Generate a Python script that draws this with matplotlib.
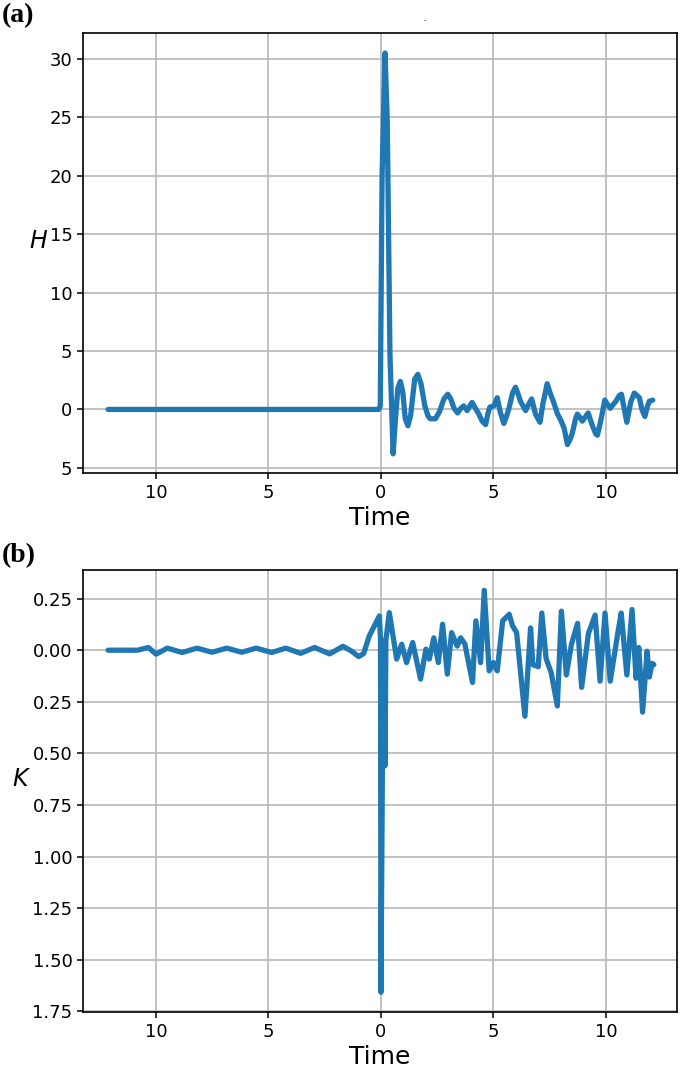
import numpy as np
import matplotlib
matplotlib.use('Agg')
import matplotlib.pyplot as plt
from matplotlib.ticker import FuncFormatter, MultipleLocator

# H(t)
h_time = [-12.13, -0.1, -0.03, 0.0, 0.05, 0.18, 0.28, 0.4, 0.54,
          0.62, 0.75, 0.86, 0.97, 1.08, 1.2, 1.32, 1.5, 1.64, 1.78,
          1.95, 2.1, 2.2, 2.42, 2.6, 2.8, 2.97, 3.1, 3.25, 3.41,
          3.55, 3.68, 3.83, 4.05, 4.2, 4.35, 4.5, 4.65, 4.75, 4.84,
          5.02, 5.17, 5.3, 5.46, 5.58, 5.69, 5.85, 5.98, 6.1, 6.2,
          6.43, 6.58, 6.7, 6.87, 7.07, 7.2, 7.39, 7.5, 7.66, 7.85,
          7.99, 8.14, 8.29, 8.4, 8.51, 8.65, 8.73, 8.85, 8.95, 9.1,
          9.21, 9.4, 9.55, 9.62, 9.72, 9.8, 9.95, 10.05, 10.19, 10.44,
          10.6, 10.69, 10.8, 10.93, 11.1, 11.26, 11.49, 11.6, 11.73, 11.85,
          11.93, 12.08]
h_vals = [0.0, 0.0, 0.3, 8.0, 20.0, 30.5, 24.7, 4.7, -3.8,
          -1.5, 1.8, 2.4, 1.5, -0.8, -1.4, -0.5, 2.6, 3.0, 2.2,
          0.3, -0.6, -0.8, -0.8, -0.2, 0.9, 1.3, 0.9, 0.1, -0.3,
          0.1, 0.3, -0.1, 0.6, 0.1, -0.4, -1.0, -1.3, -0.4, 0.2,
          0.3, 1.0, -0.2, -1.2, -0.6, 0.1, 1.4, 1.9, 1.3, 0.7,
          -0.1, 0.5, 0.9, -0.4, -1.1, 0.5, 2.2, 1.5, 0.7, -0.4,
          -0.9, -1.6, -3.0, -2.6, -2.0, -0.8, -0.4, -0.7, -1.0, -0.6,
          -0.3, -1.4, -2.1, -2.2, -1.4, -0.7, 0.8, 0.5, 0.1, 0.7,
          1.2, 1.3, 0.2, -1.1, 0.6, 1.4, 1.0, 0.0, -0.6, 0.3,
          0.7, 0.8]

# K(t)
k_time = [-12.13, -10.83, -10.34, -9.99, -9.5, -8.84, -8.18, -7.51, -6.85,
          -6.19, -5.55, -4.86, -4.23, -3.57, -2.95, -2.28, -1.69, -1.33,
          -0.99, -0.77, -0.52, -0.07, -0.02, 0.0, 0.1, 0.18, 0.22, 0.37,
          0.7, 0.92, 1.14, 1.41, 1.76, 2.0, 2.15, 2.35, 2.55, 2.74,
          2.95, 3.14, 3.39, 3.54, 3.73, 4.07, 4.22, 4.43, 4.59, 4.81,
          5.0, 5.17, 5.41, 5.7, 5.85, 6.03, 6.2, 6.4, 6.65, 6.75,
          6.99, 7.15, 7.34, 7.57, 7.84, 8.02, 8.24, 8.47, 8.74, 8.92,
          9.22, 9.52, 9.74, 9.96, 10.19, 10.53, 10.68, 10.93, 11.16, 11.34,
          11.46, 11.63, 11.83, 11.93, 12.05, 12.13]
k_vals = [0.0, 0.0, 0.013, -0.019, 0.01, -0.011, 0.01, -0.01, 0.01,
          -0.01, 0.01, -0.011, 0.01, -0.015, 0.013, -0.018, 0.019, -0.003,
          -0.031, -0.016, 0.069, 0.166, 0.05, -1.657, 0.045, -0.56, 0.05, 0.182,
          -0.043, 0.029, -0.06, 0.037, -0.14, 0.005, -0.043, 0.06, -0.06, 0.126,
          -0.116, 0.085, 0.02, 0.06, 0.03, -0.156, 0.142, -0.06, 0.29, -0.1,
          -0.06, -0.1, 0.142, 0.174, 0.118, 0.085, -0.1, -0.32, 0.108, -0.07,
          -0.08, 0.18, -0.04, -0.11, -0.27, 0.189, -0.12, 0.03, 0.13, -0.18,
          0.08, 0.17, -0.15, 0.18, -0.15, 0.084, 0.18, -0.12, 0.197, -0.136,
          0.013, -0.30, -0.005, -0.13, -0.064, -0.07]

line_color = '#1f77b4'

fig = plt.figure(figsize=(6.85, 10.68), dpi=100)
ax1 = fig.add_axes([0.121, 0.557, 0.867, 0.412])
ax2 = fig.add_axes([0.121, 0.052, 0.867, 0.414])

# tick labels in the source lost their minus signs
no_sign = FuncFormatter(lambda v, p: '%g' % abs(v))
no_sign2 = FuncFormatter(lambda v, p: '%.2f' % abs(v))

for ax, t, v, lab in [(ax1, h_time, h_vals, '$H$'), (ax2, k_time, k_vals, '$K$')]:
    ax.plot(t, v, color=line_color, lw=3.8, solid_joinstyle='round',
            solid_capstyle='round')
    ax.grid(True, color='#b8b8b8', lw=1.2)
    ax.set_axisbelow(True)
    ax.set_xlim(-13.25, 13.15)
    ax.xaxis.set_major_locator(MultipleLocator(5))
    ax.xaxis.set_major_formatter(no_sign)
    ax.tick_params(labelsize=13, width=1.1, length=4)
    ax.set_xlabel('Time', fontsize=18, labelpad=3)
    ax.set_ylabel(lab, fontsize=17, rotation=0, labelpad=8)
    for s in ax.spines.values():
        s.set_linewidth(1.2)

ax1.set_ylim(-5.45, 32.2)
ax1.yaxis.set_major_locator(MultipleLocator(5))
ax1.yaxis.set_major_formatter(no_sign)

ax2.set_ylim(-1.755, 0.387)
ax2.yaxis.set_major_locator(MultipleLocator(0.25))
ax2.yaxis.set_major_formatter(no_sign2)

fig.text(0.003, 0.985, '(a)', fontsize=20, fontweight='bold',
         family='Liberation Serif', va='center')
fig.text(0.003, 0.48, '(b)', fontsize=20, fontweight='bold',
         family='Liberation Serif', va='center')
fig.text(0.62, 0.981, '-', fontsize=5, ha='center', va='center')

fig.savefig('out.png', dpi=100)
